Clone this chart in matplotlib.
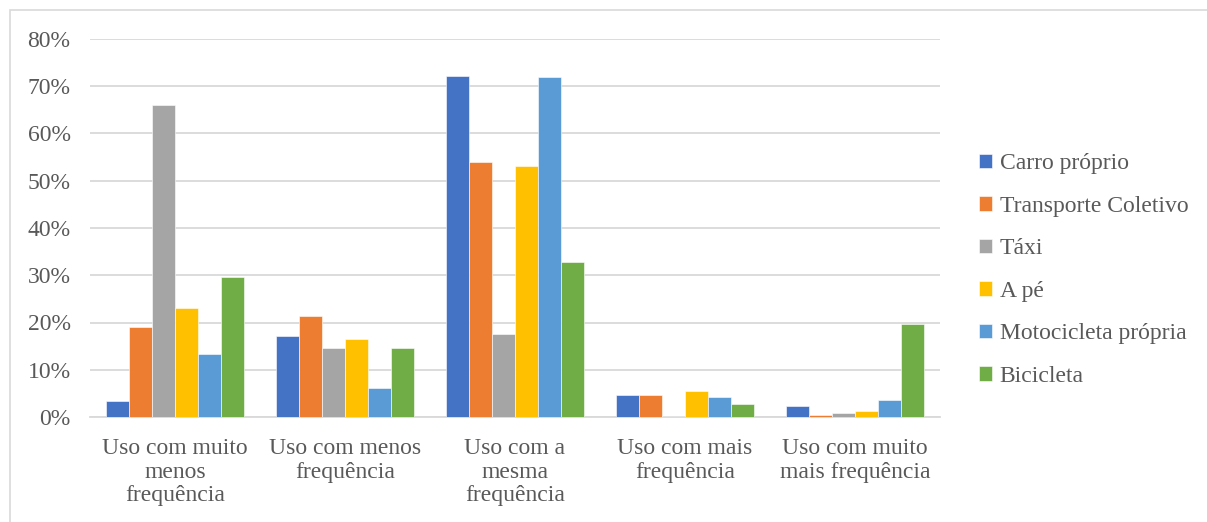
import matplotlib
matplotlib.use("Agg")
import matplotlib.pyplot as plt
import numpy as np
from matplotlib.patches import Rectangle

categories = [
    "Uso com muito\nmenos\nfrequência",
    "Uso com menos\nfrequência",
    "Uso com a\nmesma\nfrequência",
    "Uso com mais\nfrequência",
    "Uso com muito\nmais frequência",
]
series_names = ["Carro próprio", "Transporte Coletivo", "Táxi", "A pé",
                "Motocicleta própria", "Bicicleta"]
carro = [3.4, 17.1, 72.2, 4.6, 2.3]
transporte = [19.1, 21.4, 53.9, 4.6, 0.4]
taxi = [66.0, 14.7, 17.6, 0.2, 0.8]
a_pe = [23.1, 16.5, 53.1, 5.5, 1.3]
moto = [13.4, 6.2, 72.0, 4.3, 3.5]
bicicleta = [29.6, 14.5, 32.9, 2.7, 19.6]
y_ticks = [0, 10, 20, 30, 40, 50, 60, 70, 80]

colors = ["#4472C4", "#ED7D31", "#A5A5A5", "#FFC000", "#5B9BD5", "#70AD47"]
values = [carro, transporte, taxi, a_pe, moto, bicicleta]

plt.rcParams["font.family"] = ["Liberation Serif", "DejaVu Serif"]
text_color = "#595959"
fs = 17

fig = plt.figure(figsize=(12.07, 5.22), dpi=100)
ax = fig.add_axes([90 / 1207, 1 - 417 / 522, 850 / 1207, 378 / 522])

x = np.arange(len(categories))
width = 0.135
n = len(values)
for i, (name, vals, c) in enumerate(zip(series_names, values, colors)):
    offs = (i - (n - 1) / 2) * width
    ax.bar(x + offs, vals, width, color=c, label=name,
           edgecolor="white", linewidth=0.4, zorder=3)

ax.set_xlim(-0.5, len(categories) - 0.5)
ax.set_ylim(0, 80)
ax.set_yticks(y_ticks)
ax.set_yticklabels([f"{t}%" for t in y_ticks])
ax.set_xticks(x)
ax.set_xticklabels(categories, linespacing=1.17)
ax.tick_params(axis="both", length=0, labelsize=fs, colors=text_color)
ax.tick_params(axis="x", pad=15)
ax.tick_params(axis="y", pad=14)
ax.grid(axis="y", color="#D9D9D9", linewidth=1.3, zorder=0)
for s in ["top", "right", "left"]:
    ax.spines[s].set_visible(False)
ax.spines["bottom"].set_color("#D9D9D9")
ax.spines["bottom"].set_linewidth(1.3)

leg = fig.legend(loc="upper left", bbox_to_anchor=(970 / 1207, 1 - 144 / 522),
                 frameon=False, fontsize=fs, handlelength=0.55, handleheight=0.55,
                 handletextpad=0.3, labelspacing=0.91, borderaxespad=0)
for t in leg.get_texts():
    t.set_color(text_color)

fig.patches.append(Rectangle((10 / 1207, -0.1), 1.2, 1 - 10 / 522 + 0.1,
                             transform=fig.transFigure, fill=False,
                             edgecolor="#D9D9D9", linewidth=1.2))

fig.savefig("out.png", dpi=100)
